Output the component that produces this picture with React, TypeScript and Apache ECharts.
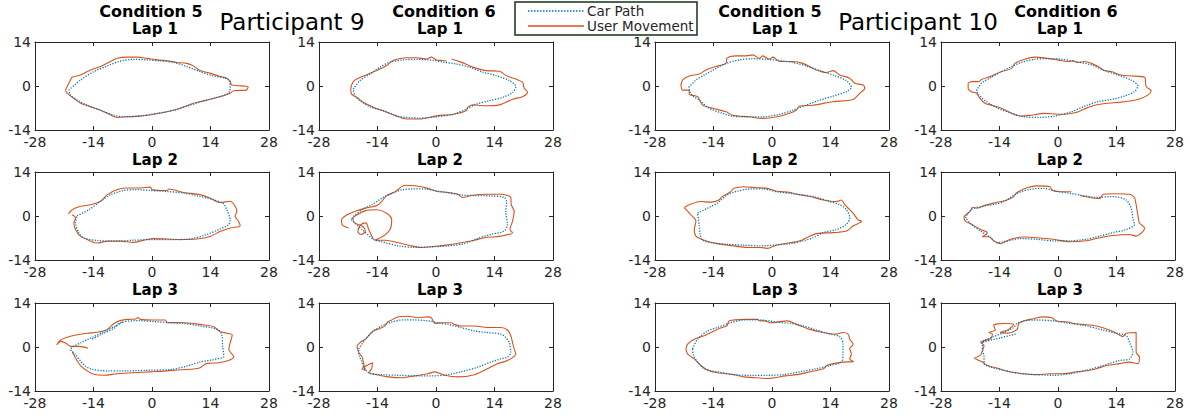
import React, { useEffect, useRef } from "react";
import * as echarts from "echarts";

const xTicks = [-28, -14, 0, 14, 28];
const yTicks = [-14, 0, 14];
const participants = ["Participant 9", "Participant 10"];
const conditions = ["Condition 5", "Condition 6", "Condition 5", "Condition 6"];
const laps = ["Lap 1", "Lap 2", "Lap 3"];
const seriesNames = ["Car Path", "User Movement"];

// Participant 9, Condition 5, Lap 1
const p9c5l1Car = [[-19.9,-1.3],[-17.1,1.9],[-13.9,4.6],[-10.7,6.4],[-7.9,7.8],[-4.4,8.5],[-1.2,8.3],[2.0,8.0],[5.2,7.5],[8.3,6.2],[11.5,4.6],[14.7,3.2],[17.5,2.5],[18.7,1.4],[18.7,-1.3],[17.9,-2.6],[15.5,-3.6],[12.3,-4.8],[9.1,-6.1],[5.2,-7.7],[1.2,-8.7],[-2.8,-9.5],[-6.8,-9.8],[-9.1,-9.3],[-12.3,-7.7],[-15.5,-6.1],[-17.9,-4.5],[-19.5,-2.9],[-19.9,-1.3]];
const p9c5l1User = [[-20.7,-1.3],[-19.5,1.9],[-19.1,2.8],[-17.1,3.5],[-14.7,5.1],[-12.3,6.2],[-9.9,7.8],[-8.3,8.8],[-6.0,9.2],[-3.6,9.2],[-1.2,8.8],[1.2,8.3],[3.6,8.0],[6.0,7.5],[8.3,7.2],[9.9,6.4],[11.5,4.9],[13.9,4.1],[16.3,3.0],[17.9,2.5],[18.7,1.4],[19.1,0.3],[23.0,-0.2],[22.6,-1.3],[19.5,-1.5],[18.7,-2.3],[16.3,-3.4],[13.1,-4.5],[9.9,-5.5],[6.8,-7.1],[3.6,-8.2],[0.4,-9.0],[-2.8,-9.6],[-6.0,-9.8],[-8.3,-10.0],[-10.7,-8.7],[-12.3,-7.7],[-14.7,-6.6],[-17.1,-5.5],[-18.7,-3.9],[-20.3,-2.3],[-20.7,-1.3]];

// Participant 9, Condition 6, Lap 1
const p9c6l1Car = [[-19.8,-1.0],[-18.2,1.7],[-15.8,3.8],[-13.4,6.0],[-11.0,7.6],[-7.9,8.3],[-4.7,8.5],[-1.5,8.3],[1.7,7.6],[4.9,7.0],[8.0,6.0],[11.2,4.4],[14.4,3.3],[17.6,1.7],[19.1,-0.2],[18.4,-2.0],[16.0,-3.6],[12.8,-4.7],[9.6,-5.8],[7.2,-7.4],[4.1,-9.0],[0.1,-9.8],[-3.9,-10.2],[-7.1,-10.0],[-9.5,-9.5],[-12.6,-7.9],[-15.8,-6.6],[-18.2,-4.7],[-19.4,-3.1],[-19.8,-1.0]];
const p9c6l1User = [[3.7,8.6],[6.0,7.6],[8.8,6.0],[12.0,4.9],[15.2,4.7],[16.8,3.3],[19.1,2.2],[20.7,1.2],[21.1,-0.6],[21.9,-2.0],[20.7,-3.4],[18.4,-4.2],[15.2,-6.0],[11.2,-6.3],[8.8,-6.0],[7.6,-6.8],[7.2,-7.9],[4.1,-9.0],[0.1,-9.5],[-3.9,-10.5],[-7.1,-10.5],[-9.5,-9.5],[-12.6,-7.9],[-15.0,-6.8],[-17.4,-5.2],[-19.0,-3.6],[-20.2,-2.6],[-20.4,-1.0],[-19.9,1.2],[-19.0,2.2],[-16.6,3.6],[-14.2,4.9],[-11.8,6.5],[-10.3,8.1],[-7.1,9.0],[-4.7,9.0],[-2.3,8.6],[-1.1,9.2],[0.1,8.3],[1.7,8.1],[2.5,7.9]];

// Participant 10, Condition 5, Lap 1
const p10c5l1Car = [[-19.9,-0.4],[-18.2,1.9],[-15.8,3.8],[-13.4,5.6],[-11.0,7.2],[-7.8,8.3],[-4.6,8.7],[-1.4,8.5],[1.8,8.1],[5.0,7.5],[8.2,6.4],[11.4,4.9],[14.6,3.5],[17.8,1.7],[19.0,-0.4],[17.8,-1.8],[14.6,-3.2],[11.4,-4.5],[8.2,-6.1],[5.0,-7.7],[1.8,-9.0],[-2.2,-9.8],[-6.2,-9.8],[-9.4,-9.6],[-11.8,-8.7],[-15.0,-7.1],[-17.4,-4.5],[-19.4,-2.6],[-19.9,-0.4]];
const p10c5l1User = [[-21.8,0.3],[-21.4,1.9],[-19.8,3.2],[-17.4,3.8],[-15.8,5.1],[-13.4,6.2],[-11.0,7.2],[-10.8,8.8],[-8.6,9.6],[-6.2,9.6],[-4.6,9.9],[-3.0,8.8],[-2.2,9.6],[-0.6,8.5],[0.2,9.2],[1.8,7.8],[5.0,7.8],[7.4,7.2],[10.6,5.1],[13.0,4.3],[14.6,4.9],[16.2,3.5],[18.6,2.5],[19.8,0.9],[21.8,0.3],[22.2,-0.8],[21.0,-2.3],[19.4,-4.3],[14.6,-5.0],[9.8,-6.1],[6.6,-6.4],[5.8,-7.7],[4.2,-8.7],[1.8,-9.6],[-2.2,-10.3],[-5.4,-9.8],[-9.4,-9.3],[-11.0,-8.2],[-14.2,-7.1],[-16.6,-6.1],[-17.8,-3.4],[-19.8,-2.6],[-19.8,-1.3],[-21.4,-1.3],[-21.8,0.3]];

// Participant 10, Condition 6, Lap 1
const p10c6l1Car = [[-19.5,-1.5],[-18.3,0.9],[-15.9,2.8],[-13.5,4.6],[-11.1,6.2],[-8.8,7.5],[-5.6,8.5],[-2.4,8.7],[0.8,8.5],[4.0,7.8],[8.0,6.7],[11.1,4.9],[14.3,3.5],[17.5,1.9],[19.1,0.0],[18.3,-1.8],[15.9,-3.2],[12.7,-4.3],[9.6,-5.0],[6.4,-6.4],[3.2,-8.2],[-0.8,-9.6],[-4.8,-10.0],[-8.0,-9.8],[-11.1,-8.7],[-14.3,-7.1],[-17.1,-5.0],[-18.9,-2.9],[-19.5,-1.5]];
const p10c6l1User = [[-21.5,0.9],[-20.7,1.4],[-18.9,1.4],[-18.3,2.1],[-15.9,3.2],[-13.5,4.6],[-11.1,5.6],[-10.3,7.2],[-8.0,8.5],[-5.6,9.2],[-2.4,8.8],[0.0,8.3],[2.4,7.8],[3.6,8.0],[4.8,7.5],[6.4,7.8],[8.0,7.2],[9.6,6.2],[11.1,4.9],[12.7,4.6],[15.1,3.5],[17.5,3.2],[20.7,2.8],[21.1,-0.2],[22.3,-1.5],[21.5,-2.9],[19.1,-4.3],[15.9,-5.0],[11.9,-5.5],[8.8,-6.1],[7.2,-6.8],[4.0,-8.5],[0.0,-9.0],[-3.2,-8.7],[-6.4,-9.3],[-8.8,-9.6],[-11.1,-8.7],[-13.5,-7.1],[-15.9,-6.1],[-17.5,-5.5],[-18.7,-3.9],[-19.5,-2.3],[-20.7,-1.8],[-21.5,-0.8],[-21.5,0.9]];

// Participant 9, Condition 5, Lap 2
const p9c5l2Car = [[-17.9,0.1],[-15.1,2.0],[-12.3,4.7],[-9.9,6.8],[-6.8,8.1],[-3.6,8.4],[-0.4,8.1],[3.6,7.8],[7.6,7.3],[11.5,6.2],[14.7,5.2],[17.1,3.9],[17.9,2.0],[18.7,-1.2],[18.3,-2.8],[16.3,-4.1],[13.1,-5.9],[9.1,-7.3],[5.2,-7.5],[0.4,-7.5],[-4.4,-7.7],[-9.1,-8.0],[-13.1,-7.8],[-16.3,-7.0],[-17.5,-5.4],[-18.3,-2.2],[-17.9,0.1]];
const p9c5l2User = [[-20.0,0.7],[-19.1,2.0],[-17.1,3.1],[-14.7,3.6],[-12.3,4.7],[-10.7,6.8],[-8.3,8.4],[-6.4,8.9],[-2.8,8.9],[-0.4,9.2],[0.0,8.4],[3.6,8.1],[4.0,8.6],[7.6,7.5],[11.5,6.8],[13.9,5.7],[16.3,4.3],[18.7,4.7],[19.9,3.1],[20.3,1.5],[19.9,-0.1],[20.7,-1.7],[21.1,-3.1],[18.7,-3.8],[16.3,-4.9],[13.9,-6.5],[10.7,-7.3],[6.8,-7.5],[3.6,-7.3],[0.4,-7.2],[-2.0,-7.7],[-4.4,-8.4],[-7.6,-8.0],[-10.7,-8.0],[-13.1,-8.6],[-15.5,-7.5],[-17.1,-6.5],[-18.3,-4.3],[-18.7,-2.2],[-18.3,-0.6],[-19.1,0.4]];

// Participant 9, Condition 6, Lap 2
const p9c6l2Car = [[-20.3,-1.2],[-17.7,-4.3],[-15.0,-7.4],[-13.0,-8.2],[-9.0,-9.5],[-5.1,-10.0],[-1.1,-9.8],[2.9,-9.5],[6.8,-8.8],[10.0,-7.1],[13.1,-5.9],[16.3,-4.8],[17.1,-2.7],[16.7,1.5],[16.9,4.6],[16.3,5.9],[13.1,6.4],[9.2,6.5],[6.0,6.7],[2.9,7.4],[0.5,7.9],[-2.7,8.6],[-5.9,8.6],[-8.2,8.3],[-10.6,7.2],[-13.0,5.6],[-15.4,3.6],[-17.7,2.0],[-19.7,-0.1],[-20.3,-1.2]];
const p9c6l2User = [[-20.9,-3.8],[-22.5,-2.7],[-22.6,-1.2],[-21.3,0.4],[-19.3,1.5],[-16.9,2.5],[-14.2,3.3],[-13.0,4.6],[-11.8,6.5],[-9.8,7.7],[-7.4,9.8],[-5.1,9.6],[-1.9,8.8],[0.1,7.9],[2.9,7.5],[5.2,6.9],[6.4,5.9],[8.4,6.5],[11.6,6.9],[15.5,6.9],[17.9,5.9],[18.0,3.6],[18.7,1.5],[18.3,-1.7],[17.7,-4.3],[18.3,-5.3],[15.5,-6.4],[11.6,-6.9],[9.2,-7.7],[6.0,-8.5],[2.9,-9.2],[-1.1,-9.8],[-3.5,-10.0],[-5.9,-9.5],[-9.0,-8.5],[-12.2,-7.7],[-14.7,-7.7],[-12.6,-6.4],[-11.0,-4.3],[-10.6,-1.2],[-11.8,0.9],[-14.2,2.0],[-16.9,1.7],[-18.9,0.4],[-19.9,-0.8],[-19.5,-2.2],[-17.7,-3.2],[-16.9,-4.8],[-17.9,-5.9],[-18.7,-5.0],[-18.1,-2.9],[-16.8,-2.2],[-16.1,-4.3],[-15.0,-7.4]];

// Participant 10, Condition 5, Lap 2
const p10c5l2Car = [[-17.8,0.9],[-15.4,2.5],[-13.1,4.1],[-10.7,6.7],[-8.3,7.9],[-5.1,8.6],[-2.0,8.6],[1.2,7.7],[4.4,7.2],[7.5,6.7],[10.7,5.9],[13.8,4.6],[16.2,3.6],[17.8,2.0],[18.6,-0.6],[17.8,-2.7],[15.4,-4.3],[12.3,-5.3],[9.9,-6.9],[7.5,-7.9],[4.4,-8.8],[1.2,-9.2],[-2.8,-9.5],[-6.7,-9.3],[-10.7,-9.0],[-14.6,-8.5],[-16.6,-7.7],[-17.2,-5.9],[-17.4,-3.2],[-17.8,0.9]];
const p10c5l2User = [[-21.0,2.7],[-19.4,3.8],[-17.0,4.6],[-14.6,4.4],[-12.7,5.1],[-11.9,6.2],[-9.9,7.7],[-9.1,8.8],[-6.7,9.3],[-3.6,9.0],[-1.2,8.8],[1.2,7.9],[4.4,7.5],[5.9,6.9],[9.1,6.2],[12.3,5.1],[15.4,4.6],[16.6,5.1],[17.4,3.6],[18.6,2.0],[19.4,0.9],[20.6,-1.2],[21.4,-1.7],[19.4,-3.2],[17.8,-4.8],[14.6,-5.3],[10.7,-5.6],[8.3,-6.9],[6.7,-7.9],[4.4,-8.5],[1.2,-9.2],[-1.2,-10.3],[-2.8,-10.0],[-5.9,-10.0],[-9.1,-9.5],[-13.1,-8.8],[-16.2,-7.7],[-18.2,-6.4],[-18.6,-4.3],[-18.2,-1.7],[-19.4,0.4],[-21.0,2.7]];

// Participant 10, Condition 6, Lap 2
const p10c6l2Car = [[-22.1,-0.6],[-20.9,2.0],[-18.5,3.0],[-15.7,3.6],[-13.0,4.6],[-9.8,7.2],[-6.7,8.5],[-3.5,8.8],[-0.3,7.9],[2.9,7.2],[6.0,6.5],[9.2,5.9],[13.1,6.2],[16.3,5.1],[17.5,2.5],[17.9,-0.6],[18.3,-2.7],[16.3,-4.3],[13.1,-5.3],[10.0,-6.4],[6.8,-7.4],[2.9,-7.9],[-1.1,-7.9],[-5.1,-7.4],[-9.0,-7.2],[-13.0,-8.2],[-14.6,-8.5],[-16.1,-6.9],[-18.5,-4.8],[-20.9,-2.5],[-22.1,-0.6]];
const p10c6l2User = [[5.2,6.5],[7.6,5.9],[10.0,5.6],[10.8,6.9],[13.9,7.1],[17.1,6.9],[18.3,5.9],[18.7,3.6],[19.1,0.4],[19.5,-2.2],[20.7,-3.8],[20.3,-5.0],[18.7,-6.4],[17.1,-5.9],[13.1,-6.2],[10.0,-6.9],[6.8,-7.9],[2.9,-8.2],[-1.1,-7.4],[-5.1,-6.9],[-8.2,-6.7],[-11.4,-7.4],[-13.8,-8.8],[-15.4,-7.9],[-16.5,-6.6],[-18.1,-6.6],[-16.9,-5.3],[-18.5,-4.3],[-20.9,-2.5],[-22.1,-1.7],[-22.5,-0.4],[-21.0,1.5],[-20.5,2.7],[-19.3,2.5],[-17.7,3.3],[-15.4,4.1],[-12.2,5.1],[-10.6,6.2],[-9.8,7.5],[-7.4,9.0],[-5.1,9.6],[-1.9,9.3],[-1.5,8.3],[0.5,7.7],[3.2,7.7]];

// Participant 9, Condition 5, Lap 3
const p9c5l3Car = [[-14.3,2.5],[-12.3,3.9],[-9.1,6.0],[-7.6,7.7],[-3.6,8.4],[0.4,8.1],[3.6,7.8],[7.6,7.5],[11.5,6.7],[14.7,6.0],[15.9,5.4],[16.7,3.9],[16.9,0.2],[17.2,-2.9],[14.7,-4.0],[11.5,-4.8],[8.3,-6.1],[4.8,-7.1],[-1.2,-7.4],[-6.0,-7.6],[-10.7,-7.6],[-14.3,-7.1],[-15.9,-6.1],[-17.1,-4.5],[-18.3,-2.4],[-19.5,-0.8],[-17.1,1.3],[-13.9,3.3],[-10.7,5.4],[-8.3,7.0],[-6.8,8.1]];
const p9c5l3User = [[-15.3,-0.4],[-17.5,0.2],[-19.5,0.2],[-20.7,1.3],[-21.8,1.8],[-22.8,0.7],[-22.0,2.1],[-20.3,3.1],[-17.9,3.9],[-15.5,4.4],[-13.1,4.7],[-10.7,5.6],[-9.1,7.5],[-7.6,8.4],[-5.6,8.8],[-4.0,8.9],[-3.4,9.4],[-2.8,8.8],[0.4,8.6],[3.2,8.6],[3.6,7.8],[7.6,7.7],[11.5,7.2],[14.7,6.5],[16.3,4.9],[17.9,4.4],[19.2,3.8],[18.7,1.3],[18.4,-0.8],[19.6,-3.1],[18.3,-4.3],[15.9,-5.0],[13.1,-5.2],[11.5,-6.6],[9.1,-7.1],[6.0,-7.3],[3.6,-7.6],[-0.4,-7.9],[-4.4,-8.2],[-8.3,-8.5],[-11.5,-9.0],[-13.9,-8.7],[-15.5,-7.6],[-17.1,-5.9],[-18.3,-3.5],[-19.1,-1.4]];

// Participant 9, Condition 6, Lap 3
const p9c6l3Car = [[-18.5,-0.6],[-16.9,2.5],[-15.4,4.6],[-13.0,6.7],[-10.6,7.9],[-8.2,8.6],[-5.1,8.6],[-1.9,8.3],[0.5,7.7],[2.9,7.2],[6.0,6.2],[9.2,5.1],[12.3,4.6],[15.5,4.1],[16.7,3.0],[17.5,1.5],[17.9,-1.7],[17.1,-3.2],[15.5,-3.8],[13.1,-4.8],[10.0,-6.4],[6.0,-7.9],[2.9,-8.8],[-1.1,-9.2],[-5.1,-9.2],[-9.0,-9.0],[-13.0,-8.8],[-16.1,-8.2],[-17.3,-6.4],[-17.7,-4.8],[-18.4,-2.7],[-18.5,-0.6]];
const p9c6l3User = [[-16.9,-7.4],[-17.7,-6.9],[-16.1,-5.6],[-15.2,-5.0],[-15.4,-6.9],[-16.1,-8.2],[-14.2,-8.8],[-11.4,-9.5],[-8.2,-9.8],[-5.1,-9.2],[-1.9,-8.5],[-0.3,-7.9],[2.1,-9.0],[5.2,-9.5],[9.2,-8.8],[12.3,-6.9],[14.7,-5.3],[17.1,-4.3],[19.1,-2.2],[18.7,-0.6],[18.3,1.5],[17.9,3.6],[17.1,5.4],[15.5,6.2],[12.3,6.2],[9.2,6.7],[6.0,6.7],[4.4,7.2],[3.6,7.7],[1.3,7.7],[-0.3,7.5],[-1.1,9.3],[-1.9,9.6],[-4.3,9.3],[-6.7,9.8],[-9.0,9.6],[-10.6,8.6],[-11.8,7.7],[-12.2,6.7],[-13.4,5.9],[-15.0,5.1],[-16.1,3.6],[-16.9,2.5],[-18.1,1.5],[-18.9,0.2],[-18.5,-1.7],[-17.7,-3.2],[-17.3,-5.3],[-16.9,-7.4]];

// Participant 10, Condition 5, Lap 3
const p10c5l3Car = [[-19.0,-0.6],[-17.8,2.5],[-15.4,5.1],[-13.1,6.2],[-9.9,7.7],[-6.7,8.6],[-2.8,8.6],[1.2,7.9],[4.4,7.5],[7.5,6.7],[10.7,5.4],[13.8,4.1],[16.2,3.3],[17.0,0.9],[17.0,-2.2],[16.6,-4.8],[13.8,-5.9],[10.7,-6.9],[6.7,-7.9],[2.8,-8.8],[-1.2,-9.0],[-5.1,-9.0],[-9.1,-8.8],[-13.1,-7.9],[-16.2,-6.9],[-17.8,-4.8],[-18.8,-2.7],[-19.0,-0.6]];
const p10c5l3User = [[-20.6,-0.6],[-20.2,0.9],[-18.6,2.5],[-16.2,3.6],[-14.6,4.6],[-13.1,5.6],[-11.9,6.2],[-10.7,6.9],[-10.3,8.3],[-6.7,8.8],[-3.6,8.8],[-2.8,8.3],[-1.6,8.3],[-0.4,7.7],[1.2,7.9],[3.6,8.3],[5.9,7.2],[9.1,5.6],[12.3,4.6],[15.4,4.1],[17.0,4.6],[18.2,4.1],[18.6,2.5],[19.4,0.9],[18.6,-0.6],[19.0,-2.2],[18.6,-3.8],[19.5,-4.6],[17.0,-4.8],[14.6,-5.3],[13.1,-5.9],[12.3,-6.9],[9.1,-7.9],[5.9,-8.8],[3.2,-9.2],[-1.2,-10.0],[-3.6,-9.8],[-6.7,-9.5],[-9.1,-8.8],[-13.1,-8.2],[-15.4,-7.4],[-17.0,-5.9],[-18.6,-3.8],[-20.2,-2.2],[-20.6,-0.6]];

// Participant 10, Condition 6, Lap 3
const p10c6l3Car = [[-18.1,1.5],[-18.1,-0.6],[-17.7,-3.2],[-17.7,-5.3],[-16.1,-6.4],[-13.0,-7.4],[-9.0,-8.5],[-5.1,-8.8],[-1.1,-9.0],[2.9,-8.5],[6.8,-7.4],[10.8,-5.9],[14.7,-4.3],[17.1,-3.8],[17.9,-1.7],[17.1,1.5],[16.3,3.6],[13.9,4.4],[10.8,5.4],[6.8,6.7],[2.9,7.5],[-1.1,8.3],[-5.1,8.6],[-8.2,8.3],[-9.8,7.5],[-10.6,6.2],[-13.0,4.6],[-15.4,3.3],[-17.7,2.0],[-18.1,1.5],[-13.8,2.9],[-9.8,4.2]];
const p10c6l3User = [[-20.1,-3.6],[-18.5,-2.5],[-18.1,-1.2],[-17.7,0.4],[-18.5,1.5],[-16.1,2.7],[-15.7,4.1],[-16.5,4.6],[-15.0,5.4],[-15.4,6.9],[-13.0,7.5],[-10.6,7.2],[-11.8,5.6],[-13.8,4.6],[-12.2,4.4],[-9.8,5.6],[-9.4,7.5],[-8.2,8.3],[-5.9,9.0],[-3.5,9.6],[-1.5,9.3],[-0.3,8.3],[2.9,7.9],[3.6,7.5],[6.0,7.2],[9.2,6.7],[12.3,5.4],[14.3,4.1],[15.5,3.3],[16.3,4.4],[18.7,4.6],[18.7,1.5],[18.7,-1.7],[19.5,-3.2],[19.1,-5.3],[17.1,-4.8],[14.7,-5.3],[11.6,-5.9],[9.2,-6.9],[7.6,-7.4],[4.4,-7.9],[1.3,-8.5],[-1.9,-8.5],[-5.1,-8.8],[-8.2,-8.5],[-12.2,-7.7],[-14.6,-6.7],[-16.9,-5.9],[-18.1,-4.8],[-20.1,-3.6]];

const carPaths = [
  [p9c5l1Car, p9c6l1Car, p10c5l1Car, p10c6l1Car],
  [p9c5l2Car, p9c6l2Car, p10c5l2Car, p10c6l2Car],
  [p9c5l3Car, p9c6l3Car, p10c5l3Car, p10c6l3Car],
];
const userPaths = [
  [p9c5l1User, p9c6l1User, p10c5l1User, p10c6l1User],
  [p9c5l2User, p9c6l2User, p10c5l2User, p10c6l2User],
  [p9c5l3User, p9c6l3User, p10c5l3User, p10c6l3User],
];

const FONT = "DejaVu Sans";
const AX = "#262626";
const BLUE = "#0072BD";
const ORANGE = "#D95319";

const colLefts = [35, 319, 655, 941];
const rowTops = [42, 172, 303];
const GW = 234;
const GH = 88;
const condTitleX = [151, 444, 770, 1066];
const lapTitleX = [155, 440, 775, 1060];
const lapTitleY = [29, 160, 290];

function buildOption() {
  const grid: any[] = [];
  const xAxis: any[] = [];
  const yAxis: any[] = [];
  const series: any[] = [];
  const graphic: any[] = [];
  let g = 0;
  for (let r = 0; r < 3; r++) {
    for (let c = 0; c < 4; c++) {
      grid.push({ left: colLefts[c], top: rowTops[r], width: GW, height: GH, containLabel: false });
      const base = {
        gridIndex: g,
        type: "value",
        splitLine: { show: false },
        axisLine: { show: true, onZero: false, lineStyle: { color: AX, width: 1 } },
        axisTick: { show: true, inside: true, length: 4, lineStyle: { color: AX } },
      };
      xAxis.push({
        ...base,
        position: "bottom",
        min: xTicks[0],
        max: xTicks[xTicks.length - 1],
        interval: xTicks[1] - xTicks[0],
        axisLabel: { fontSize: 14, color: AX, fontFamily: FONT, margin: 5 },
      });
      xAxis.push({
        ...base,
        position: "top",
        min: xTicks[0],
        max: xTicks[xTicks.length - 1],
        interval: xTicks[1] - xTicks[0],
        axisLabel: { show: false },
      });
      yAxis.push({
        ...base,
        position: "left",
        min: yTicks[0],
        max: yTicks[yTicks.length - 1],
        interval: yTicks[1] - yTicks[0],
        axisLabel: { fontSize: 14, color: AX, fontFamily: FONT, margin: 4 },
      });
      yAxis.push({
        ...base,
        position: "right",
        min: yTicks[0],
        max: yTicks[yTicks.length - 1],
        interval: yTicks[1] - yTicks[0],
        axisLabel: { show: false },
      });
      series.push({
        type: "line",
        name: seriesNames[0],
        xAxisIndex: 2 * g,
        yAxisIndex: 2 * g,
        data: carPaths[r][c],
        showSymbol: false,
        smooth: 0.3,
        lineStyle: { color: BLUE, width: 1.3, type: [1.2, 1.5] },
        z: 3,
      });
      series.push({
        type: "line",
        name: seriesNames[1],
        xAxisIndex: 2 * g,
        yAxisIndex: 2 * g,
        data: userPaths[r][c],
        showSymbol: false,
        smooth: 0.3,
        lineStyle: { color: ORANGE, width: 1.1 },
        z: 2,
      });
      graphic.push({
        type: "text",
        x: lapTitleX[c],
        y: lapTitleY[r],
        style: { text: laps[r], fontSize: 15, fontWeight: "bold", fontFamily: FONT, fill: "#000", align: "center", verticalAlign: "middle" },
      });
      g++;
    }
  }
  for (let c = 0; c < 4; c++) {
    graphic.push({
      type: "text",
      x: condTitleX[c],
      y: 11,
      style: { text: conditions[c], fontSize: 16, fontWeight: "bold", fontFamily: FONT, fill: "#000", align: "center", verticalAlign: "middle" },
    });
  }
  const partX = [292, 918];
  for (let p = 0; p < 2; p++) {
    graphic.push({
      type: "text",
      x: partX[p],
      y: 22,
      style: { text: participants[p], fontSize: 23, fontFamily: FONT, fill: "#000", align: "center", verticalAlign: "middle" },
    });
  }
  // legend
  graphic.push({
    type: "rect",
    shape: { x: 515, y: 2, width: 182, height: 33 },
    style: { fill: "#fff", stroke: "#173117", lineWidth: 1.5 },
    z: 10,
  });
  graphic.push({
    type: "line",
    shape: { x1: 528, y1: 11, x2: 584, y2: 11 },
    style: { stroke: BLUE, lineWidth: 1.5, lineDash: [1.5, 1.5] },
    z: 11,
  });
  graphic.push({
    type: "line",
    shape: { x1: 528, y1: 26, x2: 584, y2: 26 },
    style: { stroke: ORANGE, lineWidth: 1.3 },
    z: 11,
  });
  graphic.push({
    type: "text",
    x: 587,
    y: 11,
    style: { text: seriesNames[0], fontSize: 13.5, fontFamily: FONT, fill: AX, align: "left", verticalAlign: "middle" },
    z: 11,
  });
  graphic.push({
    type: "text",
    x: 587,
    y: 26,
    style: { text: seriesNames[1], fontSize: 13.5, fontFamily: FONT, fill: AX, align: "left", verticalAlign: "middle" },
    z: 11,
  });

  return {
    animation: false,
    backgroundColor: "#fff",
    textStyle: { fontFamily: FONT },
    grid,
    xAxis,
    yAxis,
    series,
    graphic,
  };
}

export default function App() {
  const ref = useRef<HTMLDivElement>(null);
  useEffect(() => {
    if (!ref.current) return;
    const chart = echarts.init(ref.current, null, { renderer: "svg" });
    chart.setOption(buildOption() as any);
    return () => chart.dispose();
  }, []);
  return (
    <div
      ref={ref}
      style={{ position: "absolute", left: 0, top: 0, width: 1190, height: 419, background: "#fff" }}
    />
  );
}
